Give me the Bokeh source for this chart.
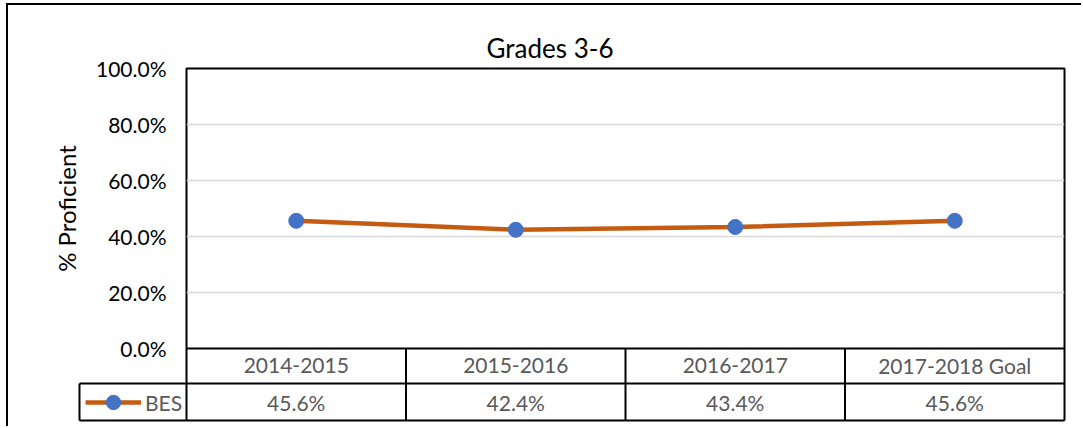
from bokeh.plotting import figure
from bokeh.models import Range1d, FixedTicker, PrintfTickFormatter, Legend, LegendItem
from bokeh.embed import file_html
from bokeh.resources import INLINE
from bokeh.core.properties import value

# ---- data ----
years = ["2014-2015", "2015-2016", "2016-2017", "2017-2018 Goal"]
bes = [45.6, 42.4, 43.4, 45.6]
series_name = "BES"
y_ticks = [0, 20, 40, 60, 80, 100]
chart_title = "Grades 3-6"
y_label = "% Proficient"

FONT = "Lato"
LINE_COLOR = "#C55A11"
MARK_COLOR = "#4472C4"
TABLE_TEXT = "#595959"

# ---- layout geometry (page pixels) ----
OX, OY = 8, 5            # canvas origin (after margin + border)
WIN_W, WIN_H = 1083, 428
FL, FR, FT, ZY = 186, 1064, 68, 348   # chart frame left/right/top, 0% line
SPLIT = 350              # where the table canvas starts
OVERLAP = 15             # chart canvas reaches below SPLIT so the 0.0% label fits
ROW_H = 37               # table row height
BOT_FRAME = 424
LEG_L = 79

n = len(years)
xs = [i + 0.5 for i in range(n)]
col_w = (FR - FL) / n
W = WIN_W - OX

# ---- chart ----
p = figure(width=W, height=SPLIT + OVERLAP - OY, output_backend="svg", toolbar_location=None,
           x_range=Range1d(0, n), y_range=Range1d(0, 100),
           x_axis_location=None,
           min_border_left=FL - OX, min_border_right=WIN_W - FR,
           min_border_top=FT - OY, min_border_bottom=SPLIT + OVERLAP - ZY)
p.styles = {"margin-left": "6px", "margin-top": "3px",
            "border-top": "2px solid black", "border-left": "2px solid black"}

p.title.text = chart_title
p.title.align = "left"
p.title.offset = 300
p.title.text_font = FONT
p.title.text_font_size = "26px"
p.title.text_font_style = "normal"
p.title.text_color = "black"

p.outline_line_color = "black"
p.outline_line_width = 2
p.border_fill_color = "white"

p.xgrid.visible = False
p.ygrid.ticker = FixedTicker(ticks=y_ticks)
p.ygrid.grid_line_color = "#D9D9D9"
p.ygrid.grid_line_width = 1.5

yax = p.yaxis[0]
yax.ticker = FixedTicker(ticks=y_ticks)
yax.formatter = PrintfTickFormatter(format="%.1f%%")
yax.axis_line_color = None
yax.major_tick_line_color = None
yax.minor_tick_line_color = None
yax.major_tick_in = 0
yax.major_tick_out = 0
yax.major_label_standoff = 20
yax.major_label_text_font = FONT
yax.major_label_text_font_size = "21px"
yax.major_label_text_color = "black"
yax.axis_label = y_label
yax.axis_label_text_font = FONT
yax.axis_label_text_font_size = "24px"
yax.axis_label_text_font_style = "normal"
yax.axis_label_text_color = "black"
yax.axis_label_standoff = 12

p.line(xs, bes, line_color=LINE_COLOR, line_width=4.5)
p.scatter(xs, bes, size=15, fill_color=MARK_COLOR, line_color=MARK_COLOR)

# ---- data table below the chart ----
t_left, t_right = LEG_L - 2, FR + 2
y_top = -(SPLIT - ZY) / ROW_H
y_bot = -(BOT_FRAME - ZY) / ROW_H
leg_x = (LEG_L - FL) / col_w

t = figure(width=W, height=WIN_H - SPLIT, output_backend="svg", toolbar_location=None,
           x_range=Range1d((t_left - FL) / col_w, (t_right - FL) / col_w),
           y_range=Range1d(y_bot, y_top),
           x_axis_location=None, y_axis_location=None,
           min_border_left=t_left - OX, min_border_right=WIN_W - t_right,
           min_border_top=0, min_border_bottom=WIN_H - BOT_FRAME)
t.styles = {"margin-left": "6px", "margin-top": f"-{OVERLAP}px",
            "border-left": "2px solid black"}
t.outline_line_color = None
t.xgrid.visible = False
t.ygrid.visible = False
t.border_fill_alpha = 0
t.background_fill_alpha = 0

t.segment(x0=[leg_x, leg_x], x1=[n, n], y0=[-1, -2], y1=[-1, -2],
          line_color="black", line_width=2)
t.segment(x0=list(range(n + 1)), x1=list(range(n + 1)),
          y0=[-2] * (n + 1), y1=[0] * (n + 1), line_color="black", line_width=2)
t.segment(x0=[leg_x], x1=[leg_x], y0=[-2], y1=[-1], line_color="black", line_width=2)

t.text(x=xs, y=[-0.5] * n, text=years, text_align="center",
       text_baseline="middle", text_font=value(FONT), text_font_size="21px",
       text_color=TABLE_TEXT)
t.text(x=xs, y=[-1.5] * n, text=[f"{v:.1f}%" for v in bes], text_align="center",
       text_baseline="middle", text_font=value(FONT), text_font_size="21px",
       text_color=TABLE_TEXT)

# series renderers for the legend key (their values lie outside this panel's range)
lr = t.line(xs, bes, line_color=LINE_COLOR, line_width=4.5)
sr = t.scatter(xs, bes, size=15, fill_color=MARK_COLOR, line_color=MARK_COLOR)
legend = Legend(items=[LegendItem(label=series_name, renderers=[lr, sr])],
                location=(8, 2), border_line_color=None, background_fill_alpha=0,
                padding=0, margin=0, spacing=0,
                glyph_width=56, glyph_height=36, label_height=36, label_standoff=4,
                label_text_font=FONT, label_text_font_size="21px",
                label_text_color=TABLE_TEXT)
t.add_layout(legend)

open("out.html", "w").write(file_html([p, t], INLINE))
